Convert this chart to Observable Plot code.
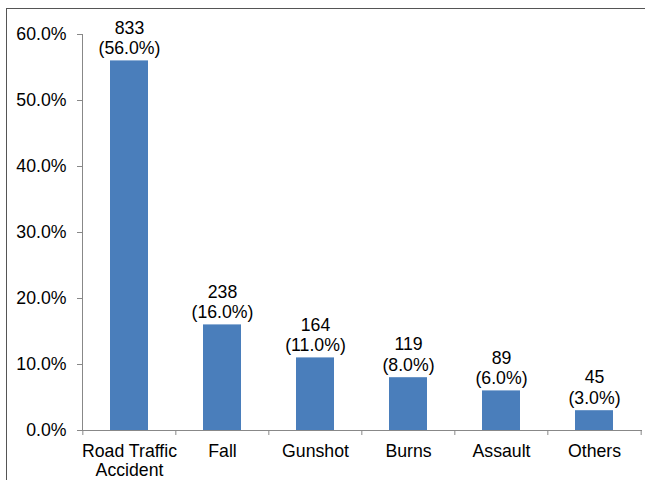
<!DOCTYPE html>
<html><head><meta charset="utf-8">
<script src="https://cdn.jsdelivr.net/npm/d3@7"></script>
<script src="https://cdn.jsdelivr.net/npm/@observablehq/plot@0.6"></script>
<style>
body{margin:0;background:#fff;overflow:hidden}
#wrap{position:relative;width:645px;height:480px;overflow:hidden;font-family:"Liberation Sans",Arial,sans-serif}
#border{position:absolute;left:6px;top:8px;width:700px;height:600px;border:1px solid #555;box-sizing:border-box}
#chart{position:absolute;left:0;top:0}
</style></head><body>
<div id="wrap"><div id="border"></div><div id="chart"></div></div>
<script>
const categories = ["Road Traffic\nAccident", "Fall", "Gunshot", "Burns", "Assault", "Others"];
const counts = [833, 238, 164, 119, 89, 45];
const percents = [56.0, 16.0, 11.0, 8.0, 6.0, 3.0];
const yTicks = [0, 10, 20, 30, 40, 50, 60];

const data = categories.map((c, i) => ({category: c, count: counts[i], pct: percents[i] / 100}));

const W = 645, H = 480, ML = 82, MR = 3, MT = 34, MB = 50;
const step = (W - ML - MR) / categories.length;
const axisColor = "#888";
const FS = 17.7;

const chart = Plot.plot({
  width: W, height: H,
  marginLeft: ML, marginRight: MR, marginTop: MT, marginBottom: MB,
  style: {fontFamily: '"Liberation Sans", Arial, sans-serif', fontSize: FS + "px", color: "#000", background: "transparent"},
  x: {domain: categories, paddingInner: 0.59, paddingOuter: 0.295, label: null, axis: null},
  y: {domain: [0, 0.6], label: null, axis: null},
  marks: [
    Plot.barY(data, {x: "category", y: "pct", fill: "#4a7ebb"}),
    Plot.frame({anchor: "left", stroke: axisColor}),
    Plot.ruleY([0], {stroke: axisColor}),
    Plot.ruleX(categories, {x: d => d, dx: -step / 2, y1: 0, y2: 0, insetBottom: -5, stroke: axisColor}),
    Plot.ruleX(categories.slice(-1), {x: d => d, dx: step / 2, y1: 0, y2: 0, insetBottom: -5, stroke: axisColor}),
    Plot.axisY({ticks: yTicks.map(v => v / 100), tickFormat: d3.format(".1%"), tickSize: 5, tickPadding: 11, stroke: axisColor, fill: "#000", fontSize: FS, label: null}),
    Plot.axisX({tickSize: 0, tickPadding: 12.5, fill: "#000", fontSize: FS, lineHeight: 1.08, label: null}),
    Plot.text(data, {x: "category", y: "pct", text: d => `${d.count}\n(${(d.pct * 100).toFixed(1)}%)`, lineAnchor: "bottom", dy: -7, lineHeight: 1.15, fontSize: FS, fill: "#000"})
  ]
});
document.getElementById("chart").appendChild(chart);
</script>
</body></html>
